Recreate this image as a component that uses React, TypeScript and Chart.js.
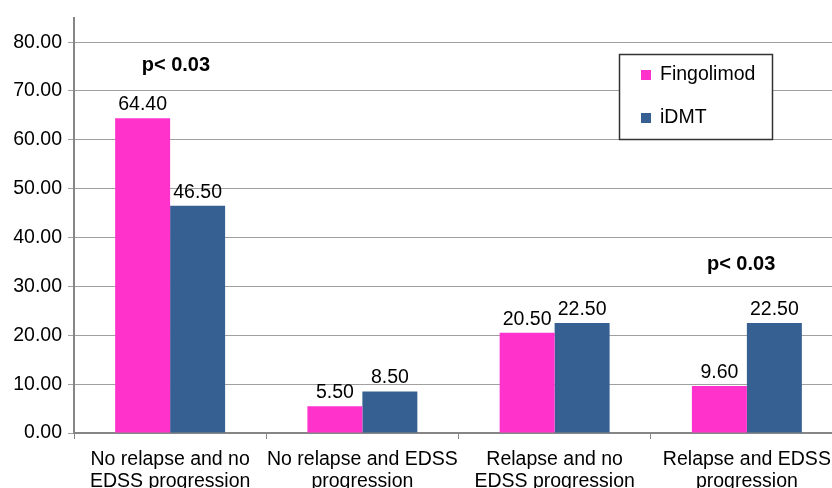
import React, { useEffect, useRef } from "react";
import { Chart, registerables } from "chart.js";

Chart.register(...registerables);

const categories = [
  ["No relapse and no", "EDSS progression"],
  ["No relapse and EDSS", "progression"],
  ["Relapse and no", "EDSS progression"],
  ["Relapse and EDSS", "progression"],
];
const fingolimod = [64.4, 5.5, 20.5, 9.6];
const idmt = [46.5, 8.5, 22.5, 22.5];
const pNotes = [
  { cat: 0, value: 75.2, shift: 0.03, text: "p< 0.03" },
  { cat: 3, value: 34.4, shift: -0.03, text: "p< 0.03" },
];

const FONT = "'Liberation Sans', Arial, sans-serif";

const valueLabels = {
  id: "valueLabels",
  afterDatasetsDraw(chart: Chart) {
    const ctx = chart.ctx;
    ctx.save();
    ctx.font = `19.5px ${FONT}`;
    ctx.fillStyle = "#000";
    ctx.textAlign = "center";
    ctx.textBaseline = "alphabetic";
    chart.data.datasets.forEach((ds, i) => {
      chart.getDatasetMeta(i).data.forEach((bar: any, j) => {
        const v = ds.data[j] as number;
        ctx.fillText(v.toFixed(2), bar.x, bar.y - 8);
      });
    });
    // significance notes
    const xs = chart.scales.x;
    const ys = chart.scales.y;
    ctx.font = `bold 20px ${FONT}`;
    ctx.textBaseline = "middle";
    pNotes.forEach((n) => {
      const x = xs.getPixelForValue(n.cat + n.shift);
      ctx.fillText(n.text, x, ys.getPixelForValue(n.value));
    });
    ctx.restore();
  },
};

const boxLegend = {
  id: "boxLegend",
  afterDraw(chart: Chart) {
    const ctx = chart.ctx;
    const left = 619;
    const top = 54;
    ctx.save();
    ctx.fillStyle = "#fff";
    ctx.fillRect(left, top, 153, 85);
    ctx.strokeStyle = "#333";
    ctx.lineWidth = 1.5;
    ctx.strokeRect(left + 0.5, top + 0.5, 153, 85);
    ctx.font = `19.5px ${FONT}`;
    ctx.textBaseline = "middle";
    ctx.textAlign = "left";
    chart.data.datasets.forEach((ds, i) => {
      const cy = top + 21 + i * 43;
      ctx.fillStyle = ds.backgroundColor as string;
      ctx.fillRect(left + 22, cy - 5, 10, 10);
      ctx.fillStyle = "#000";
      ctx.fillText(ds.label as string, left + 41, cy);
    });
    ctx.restore();
  },
};

export default function App() {
  const chartRef = useRef<HTMLCanvasElement>(null);
  const chartInstanceRef = useRef<Chart | null>(null);

  useEffect(() => {
    document.body.style.margin = "0";
    if (!chartRef.current) return;
    const ctx = chartRef.current.getContext("2d");
    if (!ctx) return;

    if (chartInstanceRef.current) {
      chartInstanceRef.current.destroy();
    }

    chartInstanceRef.current = new Chart(ctx, {
      type: "bar",
      data: {
        labels: categories,
        datasets: [
          {
            label: "Fingolimod",
            data: fingolimod,
            backgroundColor: "#FF33CC",
            categoryPercentage: 0.572,
            barPercentage: 1,
          },
          {
            label: "iDMT",
            data: idmt,
            backgroundColor: "#366092",
            categoryPercentage: 0.572,
            barPercentage: 1,
          },
        ],
      },
      options: {
        responsive: false,
        animation: false,
        devicePixelRatio: 1,
        layout: { padding: { top: 16, left: 0, right: 0, bottom: 0 } },
        plugins: {
          legend: { display: false },
          tooltip: { enabled: false },
        },
        scales: {
          x: {
            grid: {
              drawOnChartArea: false,
              offset: true,
              tickLength: 6,
              color: "#868686",
            },
            border: { color: "#868686", width: 2 },
            ticks: {
              font: { family: FONT, size: 19.5, lineHeight: 1.15 },
              color: "#000",
              padding: 9,
              maxRotation: 0,
              autoSkip: false,
            },
            afterFit: (scale: any) => {
              scale.height = 55;
            },
          },
          y: {
            min: 0,
            max: 85,
            grid: { color: "#a0a0a0", tickLength: 6 },
            border: { color: "#868686", width: 2 },
            ticks: {
              stepSize: 10,
              includeBounds: false,
              font: { family: FONT, size: 19.5 },
              color: "#000",
              padding: 6,
              callback: (v: any) => Number(v).toFixed(2),
            },
            afterBuildTicks: (scale: any) => {
              scale.ticks = scale.ticks.filter((t: any) => t.value % 10 === 0);
            },
            afterFit: (scale: any) => {
              scale.width = 74;
            },
          },
        },
      },
      plugins: [valueLabels, boxLegend],
    });

    return () => {
      if (chartInstanceRef.current) {
        chartInstanceRef.current.destroy();
        chartInstanceRef.current = null;
      }
    };
  }, []);

  return (
    <div style={{ width: 832, height: 488, overflow: "hidden", background: "#fff" }}>
      <canvas ref={chartRef} width={843} height={488} />
    </div>
  );
}
